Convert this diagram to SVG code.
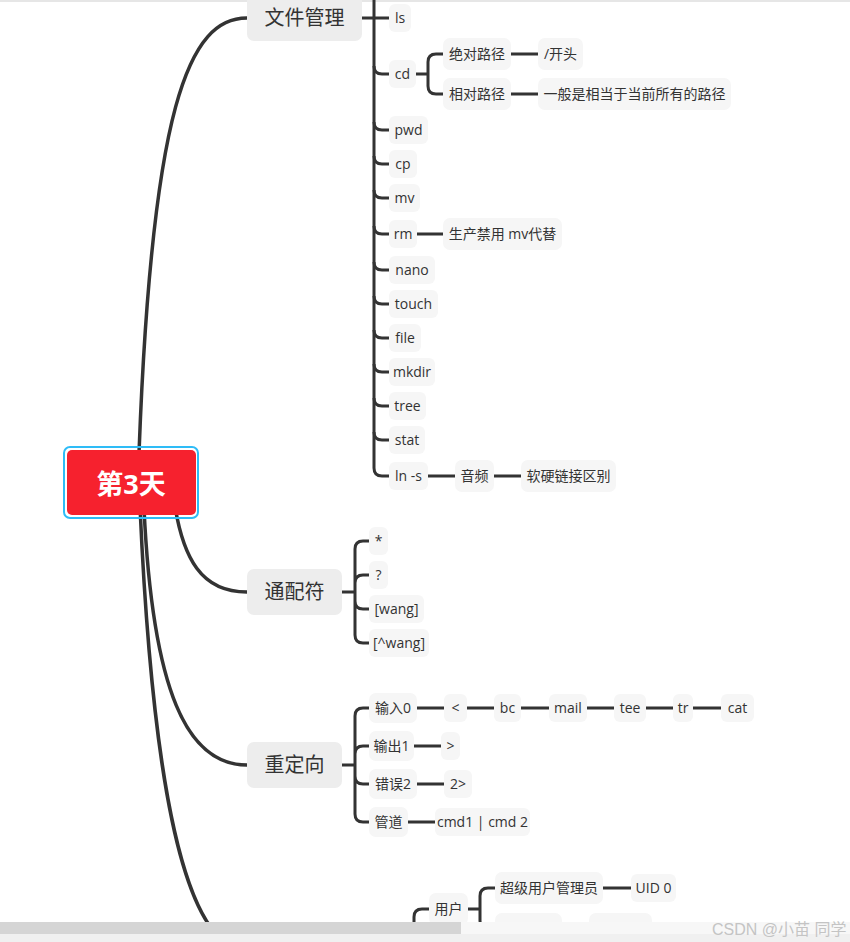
<svg xmlns="http://www.w3.org/2000/svg" width="850" height="942" viewBox="0 0 850 942">
<style>
.c{fill:none;stroke:#333;stroke-width:3}
.m{fill:none;stroke:#333;stroke-width:3.5}
.b1{fill:#ededed}
.b2{fill:#f6f6f6}
text{font-family:"Open Sans","Noto Sans CJK SC",sans-serif;fill:#333;text-anchor:middle}
.t1{font-size:20px}
.t2{font-size:14px}
</style>
<rect x="0" y="0" width="850" height="942" fill="#ffffff"/>
<rect x="0" y="0" width="850" height="2" fill="#e6e6e6"/>
<g id="connectors">
<path class="m" d="M138,483 C150,100 190,18 247,18"/>
<path class="m" d="M172,483 C180,565 205,592 247,592"/>
<path class="m" d="M143,483 C150,700 190,765 247,765"/>
<path class="m" d="M139,483 C150,760 180,950 247,950"/>
<path class="c" d="M362,18 H389 M374,-10 V468 Q374,476 382,476 H389"/>
<path class="c" d="M374,66 Q374,74 382,74 H389 M374,122 Q374,130 382,130 H389 M374,156 Q374,164 382,164 H389 M374,190 Q374,198 382,198 H389 M374,226 Q374,234 382,234 H389 M374,262 Q374,270 382,270 H389 M374,296 Q374,304 382,304 H389 M374,330 Q374,338 382,338 H389 M374,364 Q374,372 382,372 H389 M374,398 Q374,406 382,406 H389 M374,432 Q374,440 382,440 H389"/>
<path class="c" d="M416,74 H428 M443,54 H436 Q428,54 428,62 V86 Q428,94 436,94 H443 M511,54 H538 M511,94 H538"/>
<path class="c" d="M417,234 H443 M428,476 H455 M494,476 H521"/>
<path class="c" d="M342,592 H355 M369,541 H363 Q355,541 355,549 V635 Q355,643 363,643 H369 M355,583 Q355,575 363,575 H369 M355,601 Q355,609 363,609 H369"/>
<path class="c" d="M342,765 H355 M369,708 H363 Q355,708 355,716 V814 Q355,822 363,822 H369 M355,754 Q355,746 363,746 H369 M355,776 Q355,784 363,784 H369"/>
<path class="c" d="M417,708 H444 M467,708 H494 M521,708 H549 M587,708 H614 M646,708 H673 M693,708 H721 M414,746 H441 M417,784 H444 M408,822 H435"/>
<path class="c" d="M429,909 H422 Q414,909 414,917 V945 M468,909 H480 M495,888 H488 Q480,888 480,896 V921 Q480,929 488,929 H495 M603,888 H631 M562,929 H589"/>
</g>
<g id="n-root">
<rect x="64" y="447" width="134" height="71" rx="6" fill="none" stroke="#2ebcf7" stroke-width="2"/>
<rect x="67" y="450" width="129" height="65" rx="5" fill="#f6212e"/>
<text x="131" y="494" style="font-size:27px;font-weight:bold;fill:#fff">第3天</text>
</g>
<g id="n-wjgl"><rect class="b1" x="247" y="-6" width="115" height="47" rx="7"/><text class="t1" x="304.5" y="25">文件管理</text></g>
<g id="n-tpf"><rect class="b1" x="247" y="569" width="95" height="46" rx="7"/><text class="t1" x="294.5" y="599">通配符</text></g>
<g id="n-cdx"><rect class="b1" x="247" y="742" width="95" height="46" rx="7"/><text class="t1" x="294.5" y="772">重定向</text></g>
<g id="n-ls"><rect class="b2" x="389" y="4" width="22" height="28" rx="6"/><text class="t2" x="400" y="23">ls</text></g>
<g id="n-cd"><rect class="b2" x="389" y="60" width="27" height="28" rx="6"/><text class="t2" x="402.5" y="79">cd</text></g>
<g id="n-pwd"><rect class="b2" x="389" y="116" width="39" height="28" rx="6"/><text class="t2" x="408.5" y="135">pwd</text></g>
<g id="n-cp"><rect class="b2" x="389" y="150" width="28" height="28" rx="6"/><text class="t2" x="403" y="169">cp</text></g>
<g id="n-mv"><rect class="b2" x="389" y="184" width="31" height="28" rx="6"/><text class="t2" x="404.5" y="203">mv</text></g>
<g id="n-rm"><rect class="b2" x="389" y="220" width="28" height="28" rx="6"/><text class="t2" x="403" y="239">rm</text></g>
<g id="n-nano"><rect class="b2" x="389" y="256" width="46" height="28" rx="6"/><text class="t2" x="412" y="275">nano</text></g>
<g id="n-touch"><rect class="b2" x="389" y="290" width="49" height="28" rx="6"/><text class="t2" x="413.5" y="309">touch</text></g>
<g id="n-file"><rect class="b2" x="389" y="324" width="32" height="28" rx="6"/><text class="t2" x="405" y="343">file</text></g>
<g id="n-mkdir"><rect class="b2" x="389" y="358" width="46" height="28" rx="6"/><text class="t2" x="412" y="377">mkdir</text></g>
<g id="n-tree"><rect class="b2" x="389" y="392" width="37" height="28" rx="6"/><text class="t2" x="407.5" y="411">tree</text></g>
<g id="n-stat"><rect class="b2" x="389" y="426" width="36" height="28" rx="6"/><text class="t2" x="407" y="445">stat</text></g>
<g id="n-ln"><rect class="b2" x="389" y="462" width="39" height="28" rx="6"/><text class="t2" x="408.5" y="481">ln -s</text></g>
<g id="n-jdlj"><rect class="b2" x="443" y="38" width="68" height="32" rx="7"/><text class="t2" x="477" y="59">绝对路径</text></g>
<g id="n-xdlj"><rect class="b2" x="443" y="78" width="68" height="32" rx="7"/><text class="t2" x="477" y="99">相对路径</text></g>
<g id="n-kt"><rect class="b2" x="538" y="38" width="45" height="32" rx="7"/><text class="t2" x="560.5" y="59">/开头</text></g>
<g id="n-yb"><rect class="b2" x="538" y="78" width="193" height="32" rx="7"/><text class="t2" x="634.5" y="99">一般是相当于当前所有的路径</text></g>
<g id="n-scjy"><rect class="b2" x="443" y="218" width="119" height="32" rx="7"/><text class="t2" x="502.5" y="239">生产禁用 mv代替</text></g>
<g id="n-yp"><rect class="b2" x="455" y="460" width="39" height="32" rx="7"/><text class="t2" x="474.5" y="481">音频</text></g>
<g id="n-rylj"><rect class="b2" x="521" y="460" width="95" height="32" rx="7"/><text class="t2" x="568.5" y="481">软硬链接区别</text></g>
<g id="n-star"><rect class="b2" x="369" y="527" width="19" height="28" rx="6"/><text class="t2" x="378.5" y="546">*</text></g>
<g id="n-q"><rect class="b2" x="369" y="561" width="19" height="28" rx="6"/><text class="t2" x="378.5" y="580">?</text></g>
<g id="n-wang"><rect class="b2" x="369" y="595" width="55" height="28" rx="6"/><text class="t2" x="396.5" y="614">[wang]</text></g>
<g id="n-nwang"><rect class="b2" x="369" y="629" width="60" height="28" rx="6"/><text class="t2" x="399" y="648">[^wang]</text></g>
<g id="n-in"><rect class="b2" x="369" y="693" width="48" height="30" rx="7"/><text class="t2" x="393" y="713">输入0</text></g>
<g id="n-out"><rect class="b2" x="369" y="731" width="45" height="30" rx="7"/><text class="t2" x="391.5" y="751">输出1</text></g>
<g id="n-err"><rect class="b2" x="369" y="769" width="48" height="30" rx="7"/><text class="t2" x="393" y="789">错误2</text></g>
<g id="n-pipe"><rect class="b2" x="369" y="807" width="39" height="30" rx="7"/><text class="t2" x="388.5" y="827">管道</text></g>
<g id="n-lt"><rect class="b2" x="444" y="694" width="23" height="28" rx="6"/><text class="t2" x="455.5" y="713">&lt;</text></g>
<g id="n-bc"><rect class="b2" x="494" y="694" width="27" height="28" rx="6"/><text class="t2" x="507.5" y="713">bc</text></g>
<g id="n-mail"><rect class="b2" x="549" y="694" width="38" height="28" rx="6"/><text class="t2" x="568" y="713">mail</text></g>
<g id="n-tee"><rect class="b2" x="614" y="694" width="32" height="28" rx="6"/><text class="t2" x="630" y="713">tee</text></g>
<g id="n-tr"><rect class="b2" x="673" y="694" width="20" height="28" rx="6"/><text class="t2" x="683" y="713">tr</text></g>
<g id="n-cat"><rect class="b2" x="721" y="694" width="33" height="28" rx="6"/><text class="t2" x="737.5" y="713">cat</text></g>
<g id="n-gt"><rect class="b2" x="441" y="732" width="19" height="28" rx="6"/><text class="t2" x="450.5" y="751">&gt;</text></g>
<g id="n-2gt"><rect class="b2" x="444" y="770" width="28" height="28" rx="6"/><text class="t2" x="458" y="789">2&gt;</text></g>
<g id="n-cmd"><rect class="b2" x="435" y="808" width="95" height="28" rx="6"/><text class="t2" x="482.5" y="827">cmd1 | cmd 2</text></g>
<g id="n-yh"><rect class="b2" x="429" y="893" width="39" height="32" rx="7"/><text class="t2" x="448.5" y="914">用户</text></g>
<g id="n-cjyh"><rect class="b2" x="495" y="872" width="108" height="32" rx="7"/><text class="t2" x="549" y="893">超级用户管理员</text></g>
<g id="n-uid"><rect class="b2" x="631" y="874" width="45" height="28" rx="6"/><text class="t2" x="653.5" y="893">UID 0</text></g>
<g id="n-hid1"><rect class="b2" x="495" y="913" width="67" height="32" rx="7"/></g>
<g id="n-hid2"><rect class="b2" x="589" y="913" width="63" height="32" rx="7"/></g>
<rect x="0" y="922" width="850" height="12" fill="#f7f7f7"/>
<rect x="0" y="922" width="461" height="12" fill="#d5d5d5"/>
<rect x="0" y="934" width="850" height="8" fill="#f0f0f0"/>
<text x="712" y="935" style="font-family:'Liberation Sans','Noto Sans CJK SC',sans-serif;font-size:16px;fill:#c4c4c4;text-anchor:start">CSDN @小苗 同学</text>
</svg>
